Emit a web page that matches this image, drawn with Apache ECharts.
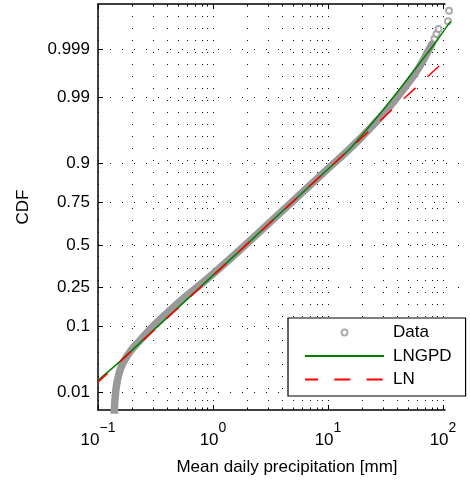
<!DOCTYPE html>
<html><head><meta charset="utf-8">
<script src="https://cdn.jsdelivr.net/npm/echarts@6/dist/echarts.min.js"></script>
<style>html,body{margin:0;padding:0;background:#fff}#c{width:470px;height:481px}</style>
</head><body><div id="c"></div>
<script>
// ---- Data ----
// Empirical CDF of observations (dense part): x in mm, p = CDF
const dataX = [0.137, 0.139, 0.1414, 0.1448, 0.1501, 0.1585, 0.1717, 0.1936, 0.2273, 0.2777, 0.3459, 0.4227, 0.5164, 0.631, 0.7708, 1.0, 1.405, 2.097, 3.131, 4.673, 6.976, 10.41, 14.05, 18.98, 24.13, 30.69, 38.24, 46.73, 55.96, 64.39, 72.6, 80.2];
const dataP = [0.0022, 0.0051, 0.0087, 0.0132, 0.0189, 0.0265, 0.0352, 0.0478, 0.0637, 0.0884, 0.1196, 0.1504, 0.1860, 0.2241, 0.2637, 0.3234, 0.4125, 0.5252, 0.6389, 0.7414, 0.8264, 0.8911, 0.9258, 0.9530, 0.9694, 0.9811, 0.98878, 0.99358, 0.99629, 0.99782, 0.99876, 0.99923];
// Sparse upper-tail observations
const tailX = [84.4, 87.8, 91.4, 110.5, 112.8];
const tailP = [0.99943, 0.99956, 0.99967, 0.99979, 0.99989];
// LNGPD fitted CDF
const lngpdX = [0.1, 0.1553, 0.2833, 0.5164, 1.0, 2.097, 4.673, 10.41, 15.54, 21.83, 29.49, 42.28, 63.1, 85.2, 116.2];
const lngpdP = [0.01615, 0.0329, 0.0811, 0.1676, 0.3150, 0.5220, 0.7389, 0.8896, 0.9353, 0.9660, 0.98253, 0.99314, 0.99798, 0.99927, 0.99979];
// LN fitted CDF
const lnX = [0.1, 1, 10, 100];
const lnP = [0.0151, 0.3128, 0.8841, 0.99801];
// Axis ticks
const yTickP = [0.01, 0.1, 0.25, 0.5, 0.75, 0.9, 0.99, 0.999];
const yTickLabels = ['0.01', '0.1', '0.25', '0.5', '0.75', '0.9', '0.99', '0.999'];
const yLimP = [0.00457, 0.999928];
const xMajor = [0.1, 1, 10, 100];
const xAll = [0.1,0.2,0.3,0.4,0.5,0.6,0.7,0.8,0.9,1,2,3,4,5,6,7,8,9,10,20,30,40,50,60,70,80,90,100];

// ---- probit transform ----
function norminv(p){
  const a=[-3.969683028665376e+01,2.209460984245205e+02,-2.759285104469687e+02,1.383577518672690e+02,-3.066479806614716e+01,2.506628277459239e+00];
  const b=[-5.447609879822406e+01,1.615858368580409e+02,-1.556989798598866e+02,6.680131188771972e+01,-1.328068155288572e+01];
  const c=[-7.784894002430293e-03,-3.223964580411365e-01,-2.400758276141917e+00,-2.549732539343734e+00,4.374664141464968e+00,2.938163982698783e+00];
  const d=[7.784695709041462e-03,3.224671290700398e-01,2.445134137142996e+00,3.754408661907416e+00];
  const pl=0.02425, ph=1-pl; let q,r;
  if(p<pl){q=Math.sqrt(-2*Math.log(p));return (((((c[0]*q+c[1])*q+c[2])*q+c[3])*q+c[4])*q+c[5])/((((d[0]*q+d[1])*q+d[2])*q+d[3])*q+1);}
  if(p>ph){q=Math.sqrt(-2*Math.log(1-p));return -(((((c[0]*q+c[1])*q+c[2])*q+c[3])*q+c[4])*q+c[5])/((((d[0]*q+d[1])*q+d[2])*q+d[3])*q+1);}
  q=p-0.5;r=q*q;return (((((a[0]*r+a[1])*r+a[2])*r+a[3])*r+a[4])*r+a[5])*q/(((((b[0]*r+b[1])*r+b[2])*r+b[3])*r+b[4])*r+1);
}
const zip = (xs, ps) => xs.map((x, i) => [x, norminv(ps[i])]);
const yTickZ = yTickP.map(norminv);
const yMin = norminv(yLimP[0]), yMax = norminv(yLimP[1]);

const FONT = "'Liberation Sans', Arial, Helvetica, sans-serif";
const dotted = { color: '#111', width: 1, type: [1, 11] };

const chart = echarts.init(document.getElementById('c'), null, { renderer: 'canvas' });
chart.setOption({
  animation: false,
  backgroundColor: '#fff',
  textStyle: { fontFamily: FONT },
  grid: [
    { left: 98, right: 25, top: 4, bottom: 71, outerBoundsMode: 'none', containLabel: false },
    { left: 98, right: -6, top: 4, bottom: 71, outerBoundsMode: 'none', containLabel: false }
  ],
  xAxis: [
    { gridIndex: 0, type: 'log', logBase: 10, min: 0.09999, max: 104.1, position: 'bottom',
      axisLine: { show: true, onZero: false, lineStyle: { color: '#000', width: 1.5 } },
      axisTick: { show: true, inside: true, length: 5, customValues: xMajor, lineStyle: { color: '#000', width: 1 } },
      axisLabel: { show: true, customValues: xMajor, margin: 10, color: '#000',
        formatter: v => '{b|10}{s|' + String(Math.round(Math.log10(v))).replace('-', '\u2212') + '}',
        rich: { b: { fontSize: 17, fontFamily: FONT, color: '#000', verticalAlign: 'bottom', lineHeight: 28.5 },
                s: { fontSize: 14, fontFamily: FONT, color: '#000', verticalAlign: 'top', lineHeight: 14, padding: [1, 0, 0, 0] } } },
      splitLine: { show: false }, minorTick: { show: false } },
    { gridIndex: 0, type: 'log', logBase: 10, min: 0.09999, max: 104.1, position: 'top',
      axisLine: { show: true, onZero: false, lineStyle: { color: '#000', width: 1.5 } },
      axisTick: { show: true, inside: true, length: 5, customValues: xMajor, lineStyle: { color: '#000', width: 1 } },
      axisLabel: { show: false }, splitLine: { show: false } },
    { gridIndex: 1, type: 'log', logBase: 10, min: 0.09999, max: 193.6, position: 'bottom',
      name: 'Mean daily precipitation [mm]', nameLocation: 'middle', nameGap: 49,
      nameTextStyle: { fontSize: 17, color: '#000', fontFamily: FONT },
      axisLine: { show: false, onZero: false },
      axisTick: { show: true, inside: true, length: 2.5, customValues: xAll, lineStyle: { color: '#000', width: 1 } },
      axisLabel: { show: false },
      splitLine: { show: true, lineStyle: dotted } },
    { gridIndex: 1, type: 'log', logBase: 10, min: 0.09999, max: 193.6, position: 'top',
      axisLine: { show: false, onZero: false },
      axisTick: { show: true, inside: true, length: 2.5, customValues: xAll, lineStyle: { color: '#000', width: 1 } },
      axisLabel: { show: false }, splitLine: { show: false } }
  ],
  yAxis: [
    { gridIndex: 0, type: 'value', min: yMin, max: yMax, position: 'left',
      name: 'CDF', nameLocation: 'middle', nameGap: 66, nameRotate: 90,
      nameTextStyle: { fontSize: 17, color: '#000', fontFamily: FONT },
      axisLine: { show: true, onZero: false, lineStyle: { color: '#000', width: 1.5 } },
      axisTick: { show: true, inside: true, length: 5, customValues: yTickZ, lineStyle: { color: '#000', width: 1 } },
      axisLabel: { show: true, customValues: yTickZ, margin: 8, fontSize: 17, color: '#000', fontFamily: FONT,
        formatter: v => { let bi = 0, bd = 1e9; yTickZ.forEach((z, i) => { const dd = Math.abs(z - v); if (dd < bd) { bd = dd; bi = i; } }); return yTickLabels[bi]; } },
      splitLine: { show: false } },
    { gridIndex: 1, type: 'value', min: yMin, max: yMax, position: 'left',
      axisLine: { show: false, onZero: false },
      axisTick: { show: false, customValues: yTickZ },
      axisLabel: { show: false, customValues: yTickZ },
      splitLine: { show: true, lineStyle: dotted } }
  ],
  legend: {
    left: 288, top: 318, orient: 'vertical',
    padding: [4, 14, 6, 16], itemGap: 2.5, itemWidth: 79, itemHeight: 6,
    backgroundColor: '#fff', borderColor: '#000', borderWidth: 1.2, borderRadius: 0,
    textStyle: { fontSize: 17, fontFamily: FONT, color: '#000', lineHeight: 21, padding: [0, 0, 0, 4] },
    data: [{ name: 'Data' },
           { name: 'LNGPD', itemStyle: { opacity: 0 } },
           { name: 'LN', itemStyle: { opacity: 0 } }]
  },
  series: [
    { name: 'Data', type: 'scatter', xAxisIndex: 2, yAxisIndex: 1, symbol: 'emptyCircle', symbolSize: 6,
      itemStyle: { color: '#999', borderColor: '#999', borderWidth: 1 }, data: zip(tailX, tailP), clip: false },
    { name: 'Data', type: 'line', xAxisIndex: 2, yAxisIndex: 1, symbol: 'none', smooth: 0.3,
      lineStyle: { color: '#999', width: 7.5, cap: 'round', join: 'round' }, itemStyle: { color: '#999' },
      data: zip(dataX, dataP) },
    { name: 'LNGPD', type: 'line', xAxisIndex: 2, yAxisIndex: 1, symbol: 'none', smooth: 0.2,
      lineStyle: { color: '#008000', width: 1.5 }, itemStyle: { color: '#008000' },
      data: zip(lngpdX, lngpdP) },
    { name: 'LN', type: 'line', xAxisIndex: 2, yAxisIndex: 1, symbol: 'none',
      lineStyle: { color: '#ff0000', width: 1.5, type: [16, 16.3], dashOffset: 3 }, itemStyle: { color: '#ff0000' },
      data: zip(lnX, lnP) }
  ]
});
</script></body></html>
